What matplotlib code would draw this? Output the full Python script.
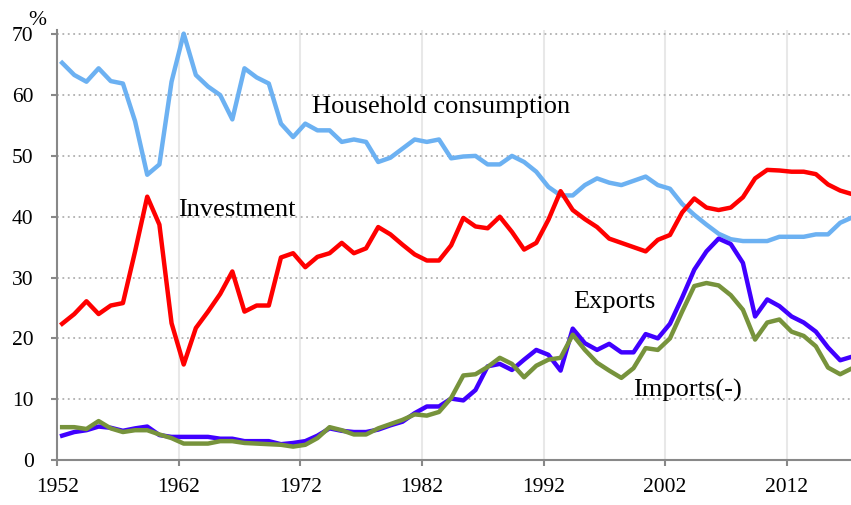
import matplotlib
matplotlib.use('Agg')
import matplotlib.pyplot as plt
import numpy as np

years = np.arange(1952, 2018)

household = [65.3, 63.3, 62.2, 64.4, 62.3, 61.9, 55.7, 46.9, 48.6, 62.2,
             70.1, 63.3, 61.4, 60.0, 56.0, 64.4, 62.9, 61.9, 55.3, 53.1,
             55.3, 54.2, 54.2, 52.3, 52.7, 52.3, 49.0, 49.7, 51.2, 52.7,
             52.3, 52.7, 49.6, 49.9, 50.0, 48.6, 48.6, 50.0, 49.0, 47.4,
             44.9, 43.5, 43.5, 45.2, 46.3, 45.6, 45.2, 45.9, 46.6, 45.2,
             44.6, 42.1, 40.3, 38.7, 37.2, 36.3, 36.0, 36.0, 36.0, 36.7,
             36.7, 36.7, 37.1, 37.1, 39.0, 39.9]

investment = [22.4, 24.0, 26.1, 24.0, 25.4, 25.8, 34.3, 43.3, 38.7, 22.5,
              15.7, 21.7, 24.4, 27.3, 31.0, 24.4, 25.4, 25.4, 33.3, 34.0,
              31.7, 33.4, 34.0, 35.7, 34.0, 34.8, 38.3, 37.1, 35.4, 33.8,
              32.8, 32.8, 35.3, 39.8, 38.4, 38.1, 40.0, 37.5, 34.6, 35.7,
              39.5, 44.2, 41.1, 39.6, 38.3, 36.4, 35.7, 35.0, 34.3, 36.2,
              37.0, 40.7, 43.0, 41.5, 41.1, 41.5, 43.2, 46.3, 47.7, 47.6,
              47.4, 47.4, 47.0, 45.3, 44.3, 43.7]

exports = [4.0, 4.6, 4.9, 5.5, 5.3, 4.8, 5.2, 5.5, 4.1, 3.8,
           3.8, 3.8, 3.8, 3.5, 3.5, 3.1, 3.1, 3.1, 2.6, 2.8,
           3.1, 4.0, 5.2, 4.8, 4.6, 4.6, 5.0, 5.7, 6.3, 7.7,
           8.8, 8.8, 10.1, 9.8, 11.5, 15.4, 15.8, 14.8, 16.5, 18.1,
           17.3, 14.7, 21.6, 19.2, 18.1, 19.1, 17.7, 17.7, 20.7, 20.0,
           22.4, 26.7, 31.3, 34.3, 36.4, 35.5, 32.4, 23.6, 26.4, 25.3,
           23.6, 22.6, 21.1, 18.5, 16.4, 17.0]

imports = [5.4, 5.4, 5.1, 6.4, 5.2, 4.6, 4.9, 4.9, 4.2, 3.6,
           2.7, 2.7, 2.7, 3.1, 3.1, 2.8, 2.7, 2.6, 2.5, 2.2,
           2.5, 3.6, 5.4, 4.9, 4.2, 4.2, 5.2, 5.9, 6.6, 7.5,
           7.3, 7.9, 10.2, 13.9, 14.1, 15.3, 16.8, 15.8, 13.6, 15.5,
           16.5, 16.8, 20.6, 18.1, 16.0, 14.7, 13.5, 15.1, 18.4, 18.1,
           20.0, 24.4, 28.6, 29.1, 28.7, 27.1, 24.7, 19.8, 22.6, 23.1,
           21.1, 20.4, 18.7, 15.2, 14.1, 15.1]

xticks = [1952, 1962, 1972, 1982, 1992, 2002, 2012]
yticks = [0, 10, 20, 30, 40, 50, 60, 70]

serif = ['Liberation Serif', 'DejaVu Serif']

fig = plt.figure(figsize=(8.51, 5.05), dpi=100)
ax = fig.add_axes([0.0673, 0.0891, 0.9327, 0.8515])

# points sit a bit right of the year tick
x = years + 0.4

ax.plot(x, household, color='#6cb1f2', lw=3.2, clip_on=False, zorder=3)
ax.plot(x, investment, color='#ff0000', lw=3.2, clip_on=False, zorder=3)
ax.plot(x, exports, color='#4000ff', lw=3.2, clip_on=False, zorder=3)
ax.plot(x, imports, color='#77933c', lw=3.2, clip_on=False, zorder=4)

ax.set_xlim(1952, 2017.29)
ax.set_ylim(0, 70.7)

# grid
for yv in yticks[1:]:
    ax.axhline(yv, color='#b0b0b0', lw=1.3, ls=(0, (1, 2)), zorder=1)
for xv in xticks[1:]:
    ax.axvline(xv, color='#e8e8e8', lw=1.5, zorder=0)

ax.set_xticks(xticks)
ax.set_yticks(yticks)
ax.set_xticklabels([str(v) for v in xticks], family=serif, fontsize=15.5)
ax.set_yticklabels([str(v) for v in yticks], family=serif, fontsize=15.5)
ax.tick_params(axis='x', length=4, width=1.5, color='#888888', pad=9)
ax.tick_params(axis='y', length=4, width=1.5, color='#888888', pad=13)

for s in ['top', 'right']:
    ax.spines[s].set_visible(False)
for s in ['left', 'bottom']:
    ax.spines[s].set_color('#888888')
    ax.spines[s].set_linewidth(1.5)

fig.text(28 / 851, 1 - 25 / 505, '%', family=serif, fontsize=15.5,
         ha='left', va='baseline')

ax.text(1972.95, 57.1, 'Household consumption', family=serif, fontsize=19,
        ha='left', va='baseline')
ax.text(1961.93, 40.2, 'Investment', family=serif, fontsize=19,
        ha='left', va='baseline')
ax.text(1994.4, 25.0, 'Exports', family=serif, fontsize=19,
        ha='left', va='baseline')
ax.text(1999.33, 10.4, 'Imports(-)', family=serif, fontsize=19,
        ha='left', va='baseline')

plt.savefig('out.png', dpi=100)
